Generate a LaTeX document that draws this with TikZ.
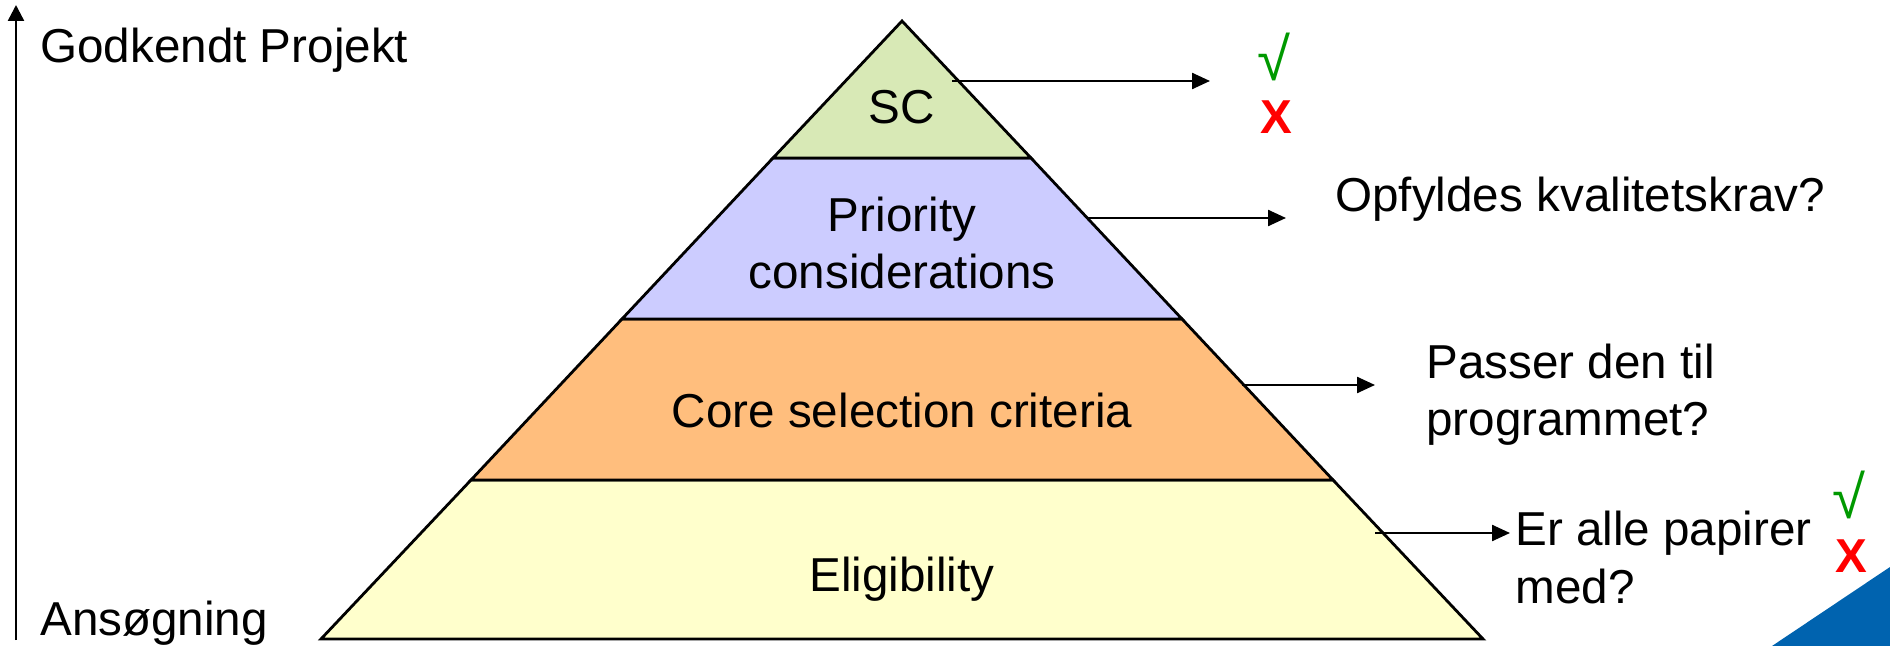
\documentclass[tikz,border=0pt]{standalone}
\usepackage{fontspec}
\setmainfont{Liberation Sans}
\usetikzlibrary{arrows.meta}

\definecolor{scgreen}{RGB}{216,233,182}
\definecolor{prioblue}{RGB}{204,204,255}
\definecolor{coreorange}{RGB}{255,190,125}
\definecolor{eligyellow}{RGB}{255,255,204}
\definecolor{okgreen}{RGB}{0,153,0}
\definecolor{cornerblue}{RGB}{0,99,175}

\begin{document}
\begin{tikzpicture}[x=0.5pt,y=0.5pt,yscale=-1,
	lbl/.style={inner sep=0pt,font=\fontsize{23.8}{28.5}\selectfont},
	yesmark/.style={inner sep=0pt,text=okgreen,font=\fontsize{30}{30}\selectfont},
	nomark/.style={inner sep=0pt,text=red,font=\fontsize{23.8}{28.5}\selectfont\bfseries},
	layer/.style={draw=black,line width=1.4pt,line join=miter},
	pointer/.style={line width=1.2pt,-{Triangle[length=9pt,width=8pt]}}]
	\useasboundingbox (0,0) rectangle (1890,646);
	% corner of the slide
	\fill [cornerblue] (1772,646) -- (1890,567) -- (1890,646) -- cycle ;
	% axis
	\coordinate (axbot) at (16,640);
	\coordinate (axtop) at (16,5);
	\draw [line width=1.2pt,-{Triangle[length=8pt,width=8pt]}] (axbot) -- (axtop) ;
	\node (godkendt) [lbl,anchor=base west] at (40,63) {Godkendt Projekt};
	\node (ansoeg) [lbl,anchor=base west] at (40,635) {Ansøgning};
	% pyramid layers
	\draw [layer,fill=eligyellow] (471,480) -- (1333,480) -- (1483,639) -- (321,639) -- cycle ;
	\draw [layer,fill=coreorange] (622,319) -- (1182,319) -- (1333,480) -- (471,480) -- cycle ;
	\draw [layer,fill=prioblue] (773,158) -- (1031,158) -- (1182,319) -- (622,319) -- cycle ;
	\draw [layer,fill=scgreen] (902,21) -- (1031,158) -- (773,158) -- cycle ;
	\node (sc) [lbl,anchor=base] at (902,124) {SC};
	\node (prio) [lbl,anchor=base,align=center] at (902,289) {Priority\\considerations};
	\node (core) [lbl,anchor=base] at (902,428) {Core selection criteria};
	\node (elig) [lbl,anchor=base] at (902,591) {Eligibility};
	% questions
	\node (scok) [yesmark] at (1274,57) {√};
	\node (scno) [nomark] at (1276,117) {X};
	\node (kval) [lbl,anchor=base west] at (1335,212) {Opfyldes kvalitetskrav?};
	\node (prog) [lbl,anchor=base west,align=left] at (1426,436) {Passer den til\\programmet?};
	\node (papir) [lbl,anchor=base west,align=left] at (1515,603) {Er alle papirer\\med?};
	\node (eligok) [yesmark] at (1849,495) {√};
	\node (eligno) [nomark] at (1851,556) {X};
	% arrows
	\coordinate (scfrom) at (952,81);
	\coordinate (scto) at (1210,81);
	\coordinate (priofrom) at (1088,218);
	\coordinate (prioto) at (1286,218);
	\coordinate (corefrom) at (1242,385);
	\coordinate (coreto) at (1375,385);
	\coordinate (eligfrom) at (1375,533);
	\coordinate (eligto) at (1510,533);
	\draw [pointer] (scfrom) -- (scto) ;
	\draw [pointer] (priofrom) -- (prioto) ;
	\draw [pointer] (corefrom) -- (coreto) ;
	\draw [pointer] (eligfrom) -- (eligto) ;
\end{tikzpicture}
\end{document}
